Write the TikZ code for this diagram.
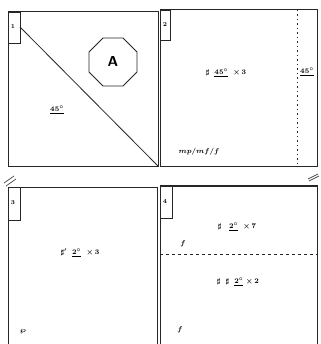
\documentclass[tikz,border=0pt]{standalone}
\usetikzlibrary{shapes.geometric}
\begin{document}
\begin{tikzpicture}[x=1pt,y=-1pt,
  panel/.style={draw=black!85,line width=1pt},
  tab/.style={draw=black!85,line width=0.8pt},
  lbl/.style={font=\fontsize{6}{7}\selectfont\bfseries,inner sep=0pt},
  note/.style={font=\fontsize{7.5}{8}\selectfont\boldmath,inner sep=0.5pt},
  breakmark/.style={draw=black!70,line width=0.7pt}]
\useasboundingbox (0,0) rectangle (320,344);
\fill[white] (0,0) rectangle (320,344);
% Panel 1
\draw[panel] (8,12) rectangle (158,167);
\draw[tab] (8,12) rectangle (20,43);
\node[lbl] (t1) at (13,27) {1};
\coordinate (d1) at (20,27);
\coordinate (d2) at (158,166);
\draw[panel,line width=0.8pt] (d1) -- (d2);
\node[regular polygon,regular polygon sides=8,draw=black!85,line width=0.9pt,minimum size=52pt,inner sep=0pt,font=\sffamily\bfseries\Large] (A) at (113,62) {A};
\node[note] (n1) at (57,110) {$\underline{45^{\circ}}$};
% Panel 2
\draw[panel] (160,10) rectangle (317,167);
\draw[tab] (160,10) rectangle (170,40);
\node[lbl] (t2) at (165,25) {2};
\coordinate (v1) at (297,10);
\coordinate (v2) at (297,167);
\draw[black!85,line width=0.9pt,dash pattern=on 1.5pt off 3pt] (v1) -- (v2);
\node[note] (n2) at (226,73) {$\sharp\;\;\underline{45^{\circ}}\;\;{\times}\,3$};
\node[note] (n3) at (307,72) {$\underline{45^{\circ}}$};
\node[note] (n4) at (199,152) {$mp/mf/f$};
% Panel 3
\draw[panel] (8,187) -- (8,344) (8,187) -- (157,187) -- (157,344);
\draw[tab] (8,187) -- (20,187) -- (20,220) -- (8,220);
\node[lbl] (t3) at (13,203) {3};
\node[note] (n5) at (80,253) {$\sharp'\;\;\underline{2^{\circ}}\;\;{\times}\,3$};
\node[note] (n6) at (23,332) {$\wp$};
% Panel 4
\draw[panel] (160,186) -- (160,344) (160,186) -- (317,186) -- (317,344);
\draw[tab] (160,186) -- (172,186) -- (172,218) -- (160,218);
\node[lbl] (t4) at (165,202) {4};
\coordinate (h1) at (160,254);
\coordinate (h2) at (317,254);
\draw[black!85,line width=0.8pt,dash pattern=on 3pt off 3pt] (h1) -- (h2);
\node[note] (n7) at (237,227) {$\sharp\;\;\;\underline{2^{\circ}}\;\;{\times}\,7$};
\node[note] (n8) at (183,244) {$f$};
\node[note] (n9) at (238,282) {$\sharp\;\;\sharp\;\;\underline{2^{\circ}}\;{\times}\,2$};
\node[note] (n10) at (180,330) {$f$};
% break marks
\draw[breakmark] (4,183) -- (14,176) (6,186) -- (16,179);
\draw[breakmark] (308,179) -- (318,174) (309,181) -- (319,176);
\end{tikzpicture}
\end{document}
